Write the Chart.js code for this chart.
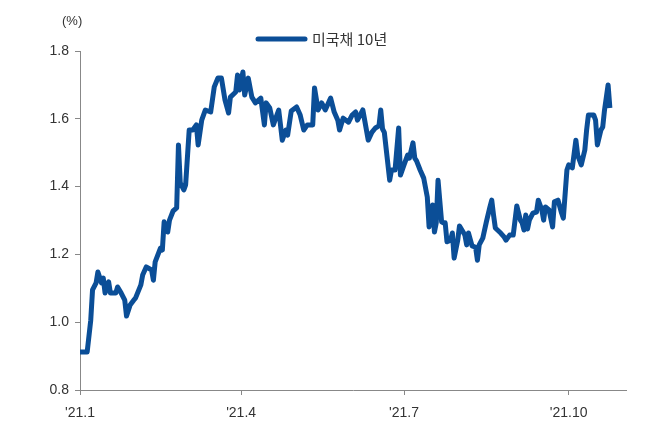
<!DOCTYPE html>
<html><head><meta charset="utf-8">
<script src="https://cdn.jsdelivr.net/npm/chart.js@4"></script>
<style>html,body{margin:0;padding:0;background:#fff}</style>
</head><body>
<canvas id="c" width="654" height="432" style="width:654px;height:432px"></canvas>
<script>
const seriesName = '미국채 10년';
const days = [0,4,6,7,9,10,12,13,14,16,17,20,21,23,25,26,28,30,31,34,35,37,40,41,42,45,46,47,49,50,52,54,55,56,58,59,61,63,65,66,68,70,73,75,77,79,81,83,84,87,88,89,91,92,94,96,98,101,103,104,106,108,111,113,115,116,118,121,123,125,127,130,131,133,135,137,140,142,144,145,147,150,152,154,155,158,160,161,163,165,167,168,169,170,173,174,176,178,179,181,183,184,186,187,188,190,192,194,195,197,198,199,200,202,203,204,205,207,208,209,211,212,215,216,217,219,221,222,223,225,227,229,230,231,232,235,237,238,240,242,244,246,247,248,249,250,251,253,255,256,258,259,260,262,264,265,267,269,270,272,273,275,277,278,280,282,283,284,287,288,289,291,292,293,295,296];
const yields = [0.912,0.912,1.006,1.095,1.116,1.148,1.116,1.130,1.086,1.119,1.086,1.086,1.104,1.086,1.065,1.018,1.051,1.065,1.071,1.110,1.139,1.163,1.154,1.124,1.178,1.219,1.213,1.296,1.266,1.301,1.328,1.337,1.523,1.411,1.390,1.405,1.567,1.567,1.582,1.523,1.596,1.626,1.620,1.694,1.720,1.720,1.655,1.617,1.664,1.679,1.729,1.685,1.738,1.670,1.720,1.664,1.647,1.661,1.582,1.647,1.632,1.582,1.626,1.537,1.567,1.552,1.623,1.635,1.611,1.567,1.582,1.582,1.691,1.626,1.647,1.626,1.661,1.620,1.596,1.567,1.602,1.590,1.611,1.620,1.596,1.626,1.567,1.537,1.560,1.573,1.579,1.626,1.570,1.560,1.419,1.449,1.449,1.573,1.434,1.464,1.493,1.484,1.529,1.484,1.476,1.449,1.425,1.369,1.281,1.346,1.266,1.293,1.419,1.296,1.293,1.293,1.237,1.242,1.263,1.189,1.242,1.284,1.257,1.228,1.263,1.225,1.221,1.183,1.228,1.248,1.296,1.340,1.360,1.316,1.278,1.263,1.251,1.242,1.257,1.257,1.343,1.301,1.293,1.272,1.316,1.275,1.301,1.322,1.325,1.360,1.331,1.301,1.340,1.331,1.281,1.355,1.360,1.322,1.307,1.449,1.464,1.455,1.537,1.493,1.464,1.508,1.567,1.611,1.611,1.596,1.523,1.567,1.576,1.626,1.700,1.632];
const xTickDays = [0,90,181,273];
const xTickLabels = ["'21.1","'21.4","'21.7","'21.10"];
const yTicks = [0.8,1.0,1.2,1.4,1.6,1.8];

const color = '#0b4e97';
const deco = {
  id:'deco',
  afterDraw(ch){
    const c = ch.ctx; c.save();
    c.fillStyle='#333'; c.font='13px "Liberation Sans", Arial'; c.textBaseline='middle'; c.textAlign='left';
    c.fillText('(%)',62,21);
    c.strokeStyle=color; c.lineWidth=5; c.lineCap='round';
    c.beginPath(); c.moveTo(258,39); c.lineTo(305,39); c.stroke();
    c.font='15px "Noto Sans CJK KR"'; c.fillStyle='#333';
    c.fillText(seriesName,312,39);
    c.restore();
  }
};
new Chart(document.getElementById('c'),{
  type:'line',
  data:{datasets:[{label:seriesName,data:days.map((d,i)=>({x:d,y:yields[i]})),borderColor:color,borderWidth:5,pointRadius:0,tension:0,borderJoinStyle:'round'}]},
  options:{
    responsive:false,animation:false,
    layout:{padding:{top:51,right:28,left:0,bottom:0}},
    plugins:{legend:{display:false},tooltip:{enabled:false}},
    scales:{
      x:{type:'linear',min:0,max:305,
        afterBuildTicks(s){s.ticks=xTickDays.map(v=>({value:v}));},
        afterFit(s){s.height=42;},
        ticks:{callback:(v)=>{const i=xTickDays.indexOf(v);return i>=0?xTickLabels[i]:'';},color:'#333',font:{family:'"Liberation Sans", Arial',size:14},maxRotation:0,autoSkip:false,padding:10},
        grid:{drawOnChartArea:false,tickLength:5,color:'#888'},border:{color:'#888'}},
      y:{min:0.8,max:1.8,
        afterBuildTicks(s){s.ticks=yTicks.map(v=>({value:v}));},
        afterFit(s){s.width=80;},
        ticks:{callback:v=>v.toFixed(1),color:'#333',font:{family:'"Liberation Sans", Arial',size:14},padding:6},
        grid:{drawOnChartArea:false,tickLength:5,color:'#888'},border:{color:'#888'}}
    }
  },
  plugins:[deco]
});
</script>
</body></html>
